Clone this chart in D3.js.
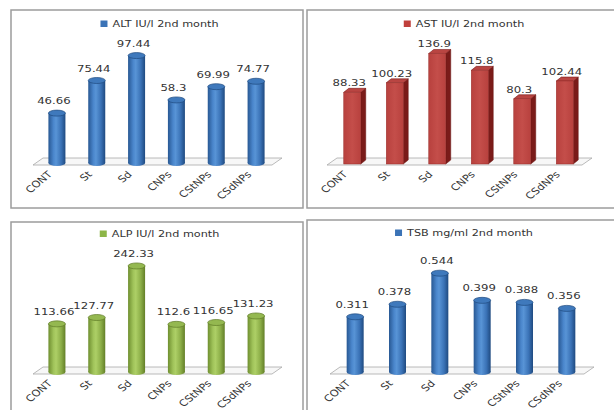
<!DOCTYPE html>
<html><head><meta charset="utf-8">
<script src="https://cdn.jsdelivr.net/npm/d3@7/dist/d3.min.js"></script>
<style>body{margin:0;background:#fff}svg{display:block}</style>
</head><body>
<svg id="c" width="614" height="410"></svg>
<script>
const categories = ["CONT","St","Sd","CNPs","CStNPs","CSdNPs"];
const altValues = [46.66,75.44,97.44,58.3,69.99,74.77];
const astValues = [88.33,100.23,136.9,115.8,80.3,102.44];
const alpValues = [113.66,127.77,242.33,112.6,116.65,131.23];
const tsbValues = [0.311,0.378,0.544,0.399,0.388,0.356];
const seriesNames = ["ALT IU/l 2nd month","AST IU/l 2nd month","ALP IU/l 2nd month","TSB mg/ml 2nd month"];
const axisMax = [120,160,300,0.7];

const svg = d3.select("#c");
const SX = 1.22; // horizontal stretch of the original picture
const FONT = "'DejaVu Sans', Verdana, sans-serif";

const defs = svg.append("defs");
function cylGrad(id, stops){
  const g = defs.append("linearGradient").attr("id", id).attr("x1","0").attr("x2","1").attr("y1","0").attr("y2","0");
  stops.forEach(s => g.append("stop").attr("offset", s[0]).attr("stop-color", s[1]));
}
cylGrad("gBlue", [[0,"#285893"],[0.3,"#4a86cc"],[0.45,"#5894d6"],[0.75,"#3a72b6"],[1,"#1f4a80"]]);
cylGrad("gGreen", [[0,"#6f8f30"],[0.3,"#a0c35a"],[0.45,"#adcf66"],[0.75,"#8cae48"],[1,"#637f28"]]);
cylGrad("gRed", [[0,"#b8413e"],[0.5,"#c44e4a"],[1,"#b8413e"]]);

const panels = [
  {x:11, y:10, w:292, h:198, base:163, range:[37,276], legCx:159.5, legY:27, values:altValues, kind:"cyl", grad:"gBlue", cap:"#3f79bc", capStroke:"#1f4a80", leg:"#3b73b6"},
  {x:307, y:10, w:314, h:198, base:163, range:[331,586], legCx:464, legY:27, values:astValues, kind:"box", leg:"#c0403c"},
  {x:11, y:222, w:292, h:200, base:372, range:[37,276], legCx:159.5, legY:237, values:alpValues, kind:"cyl", grad:"gGreen", cap:"#94b850", capStroke:"#5f7a26", leg:"#8db648"},
  {x:307, y:220, w:314, h:200, base:372, range:[334,588], legCx:464, legY:236, values:tsbValues, kind:"cyl", grad:"gBlue", cap:"#3f79bc", capStroke:"#1f4a80", leg:"#3b73b6"}
];
const plotHeights = [136,128,135,131];

panels.forEach((p, i) => {
  const g = svg.append("g");
  g.append("rect").attr("x", p.x).attr("y", p.y).attr("width", p.w).attr("height", p.h)
    .attr("fill", "#fff").attr("stroke", "#9c9c9c").attr("stroke-width", 1.5);

  const x = d3.scaleBand().domain(categories).range(p.range);
  const y = d3.scaleLinear().domain([0, axisMax[i]]).range([p.base, p.base - plotHeights[i]]);
  const bw = 17;

  // floor
  const fl = p.range[0] - 4, fr = p.range[1] - 6;
  const floorPts = [[fl, p.base+2],[fl+10, p.base-5],[fr+12, p.base-5],[fr+2, p.base+2]];
  g.append("path").attr("d", d3.line()(floorPts) + "Z")
    .attr("fill", "#f7f7f7").attr("stroke", "#a8a8a8").attr("stroke-width", 0.8);

  // bars
  categories.forEach((c, k) => {
    const v = p.values[k];
    const cx = x(c) + x.bandwidth()/2;
    const top = y(v);
    if (p.kind === "cyl") {
      const rx = 8.5, ry = 3;
      g.append("ellipse").attr("cx", cx).attr("cy", p.base).attr("rx", rx).attr("ry", ry).attr("fill", `url(#${p.grad})`);
      g.append("rect").attr("x", cx-rx).attr("y", top+ry).attr("width", 2*rx).attr("height", p.base - top - ry)
        .attr("fill", `url(#${p.grad})`);
      g.append("ellipse").attr("cx", cx).attr("cy", top+ry).attr("rx", rx).attr("ry", ry)
        .attr("fill", p.cap).attr("stroke", p.capStroke).attr("stroke-width", 0.7);
    } else {
      const dx = 5, dy = 4, fx = cx - bw/2;
      g.append("path").attr("d", d3.line()([[fx+bw, top],[fx+bw+dx, top-dy],[fx+bw+dx, p.base-dy+1],[fx+bw, p.base+1]])+"Z")
        .attr("fill", "#7a1b19").attr("stroke", "#6a1513").attr("stroke-width", 0.5);
      g.append("path").attr("d", d3.line()([[fx, top],[fx+dx, top-dy],[fx+bw+dx, top-dy],[fx+bw, top]])+"Z")
        .attr("fill", "#b94542").attr("stroke", "#7a1b19").attr("stroke-width", 0.6);
      g.append("rect").attr("x", fx).attr("y", top).attr("width", bw).attr("height", p.base - top + 1)
        .attr("fill", "url(#gRed)").attr("stroke", "#9a2e2b").attr("stroke-width", 0.5);
    }
    g.append("text")
      .attr("transform", `translate(${cx - 3},${top - 6}) scale(${SX},1)`)
      .attr("text-anchor", "middle").attr("font-family", FONT).attr("font-size", 9.6)
      .attr("fill", "#333").text(String(v));
    g.append("text")
      .attr("transform", `translate(${cx - 4},${p.base + 12}) scale(${SX},1) rotate(-45)`)
      .attr("text-anchor", "end").attr("font-family", FONT).attr("font-size", 9.3)
      .attr("fill", "#333").text(c);
  });

  // legend
  const lg = g.append("g");
  const t = lg.append("text").attr("font-family", FONT).attr("font-size", 9.2).attr("fill", "#333").text(seriesNames[i]);
  const tw = t.node().getComputedTextLength() * SX;
  const total = 7 + 5 + tw;
  const sx0 = p.legCx - total/2;
  lg.append("rect").attr("x", sx0).attr("y", p.legY - 6.5).attr("width", 7).attr("height", 6.5).attr("fill", p.leg);
  t.attr("transform", `translate(${sx0 + 12},${p.legY}) scale(${SX},1)`);
});
</script>
</body></html>
